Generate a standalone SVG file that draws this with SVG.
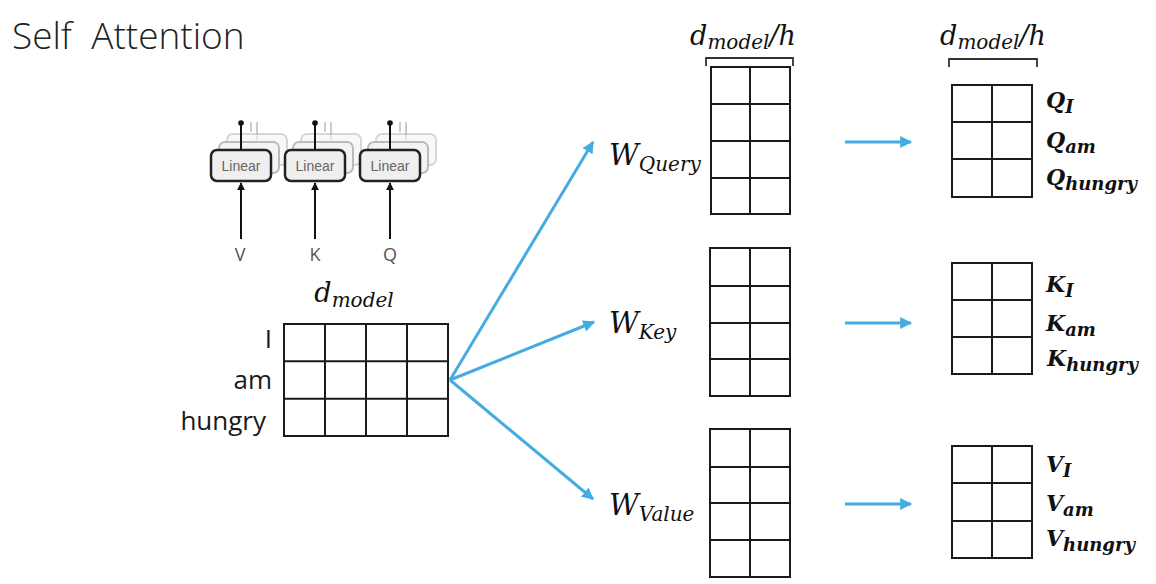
<svg xmlns="http://www.w3.org/2000/svg" width="1156" height="584" viewBox="0 0 1156 584">
<style>
.grid{fill:none;stroke:#1a1a1a;stroke-width:2}
.lbl{font-family:"Open Sans","Liberation Sans",sans-serif;font-size:26px;fill:#1a1a1a}
.math{font-family:"DejaVu Serif",serif;font-style:italic;fill:#111}
.bm{font-family:"DejaVu Serif",serif;font-style:italic;font-weight:bold;fill:#111;font-size:22px}
.sub{font-size:18px}
.blue{stroke:#45ABE0;stroke-width:3;fill:none}
.brk{fill:none;stroke:#333;stroke-width:1.8}
.lin{fill:#efefef;stroke:#222;stroke-width:2.5}
.linb{fill:#f4f4f4;stroke:#bbb;stroke-width:2}
.lintx{font-family:"Liberation Sans",sans-serif;font-size:14px;fill:#666}
.blk{stroke:#111;stroke-width:2;fill:none}
.vkq{font-family:"Open Sans","Liberation Sans",sans-serif;font-size:18px;fill:#555}
</style>
<defs>
<marker id="ah" viewBox="0 0 10 10" refX="9" refY="5" markerWidth="4" markerHeight="4" orient="auto"><path d="M0,0 L10,5 L0,10 Z" fill="#45ABE0"/></marker>
<marker id="bh" viewBox="0 0 10 10" refX="9" refY="5" markerWidth="4" markerHeight="4" orient="auto"><path d="M0,0 L10,5 L0,10 Z" fill="#111"/></marker>
<g id="linblock">
<line x1="40" y1="-28" x2="40" y2="-18" stroke="#ccc" stroke-width="2"/>
<line x1="46" y1="-28" x2="46" y2="-10" stroke="#ccc" stroke-width="2"/>
<rect x="16" y="-16" width="60" height="31" rx="6" class="linb" opacity="0.6"/>
<rect x="8" y="-8" width="60" height="31" rx="6" class="linb"/>
<rect x="0" y="0" width="60" height="31" rx="6" class="lin"/>
<text x="30" y="21" text-anchor="middle" class="lintx">Linear</text>
<line x1="30" y1="89" x2="30" y2="33" class="blk" marker-end="url(#bh)"/>
<line x1="30" y1="0" x2="30" y2="-26" class="blk"/>
<circle cx="30" cy="-27" r="2.8" fill="#111"/>
</g>
</defs>
<rect width="1156" height="584" fill="#fff"/>
<text x="12" y="49" font-family="'Open Sans','Liberation Sans',sans-serif" font-size="37" font-weight="300" fill="#222">Self&#160; Attention</text>

<g id="linear-layers">
<use href="#linblock" x="211" y="150"/>
<use href="#linblock" x="285" y="150"/>
<use href="#linblock" x="360" y="150"/>
<text x="240" y="261" text-anchor="middle" class="vkq">V</text>
<text x="315" y="261" text-anchor="middle" class="vkq">K</text>
<text x="390" y="261" text-anchor="middle" class="vkq">Q</text>
</g>

<g id="input-matrix">
<text x="354" y="302" text-anchor="middle" class="math" font-size="27">d<tspan font-size="20" dy="5">model</tspan></text>
<rect x="284" y="324" width="164" height="112" class="grid"/>
<path d="M325,324V436M366,324V436M407,324V436M284,361.3H448M284,398.7H448" class="grid"/>
<text x="272" y="348" text-anchor="end" class="lbl">I</text>
<text x="272" y="389" text-anchor="end" class="lbl">am</text>
<text x="266" y="430" text-anchor="end" class="lbl">hungry</text>
</g>

<g id="w-query">
<path d="M706,66V58H793V66" class="brk"/>
<text x="743" y="45" text-anchor="middle" class="math" font-size="27">d<tspan font-size="20" dy="4">model</tspan><tspan dy="-4">/h</tspan></text>
<rect x="711" y="67" width="79" height="147" class="grid"/>
<path d="M750,67V214M711,104H790M711,141H790M711,178H790" class="grid"/>
<text x="609" y="165" class="math" font-size="29">W<tspan font-size="20" dy="6">Query</tspan></text>
</g>

<g id="w-key">
<rect x="710" y="248" width="80" height="148" class="grid"/>
<path d="M750,248V396M710,286H790M710,323H790M710,359H790" class="grid"/>
<text x="609" y="333" class="math" font-size="29">W<tspan font-size="20" dy="6">Key</tspan></text>
</g>

<g id="w-value">
<rect x="710" y="429" width="80" height="148" class="grid"/>
<path d="M750,429V577M710,467H790M710,503H790M710,540H790" class="grid"/>
<text x="609" y="515" class="math" font-size="29">W<tspan font-size="20" dy="6">Value</tspan></text>
</g>

<g id="q-out">
<path d="M949,67V59H1037V67" class="brk"/>
<text x="993" y="45" text-anchor="middle" class="math" font-size="27">d<tspan font-size="20" dy="4">model</tspan><tspan dy="-4">/h</tspan></text>
<rect x="952" y="85" width="80" height="112" class="grid"/>
<path d="M992,85V197M952,122H1032M952,159H1032" class="grid"/>
<text x="1046" y="108" class="bm">Q<tspan class="sub" dy="5">I</tspan></text>
<text x="1046" y="148" class="bm">Q<tspan class="sub" dy="5">am</tspan></text>
<text x="1046" y="185" class="bm">Q<tspan class="sub" dy="5">hungry</tspan></text>
</g>

<g id="k-out">
<rect x="952" y="263" width="80" height="111" class="grid"/>
<path d="M992,263V374M952,300H1032M952,337H1032" class="grid"/>
<text x="1046" y="292" class="bm">K<tspan class="sub" dy="5">I</tspan></text>
<text x="1046" y="331" class="bm">K<tspan class="sub" dy="5">am</tspan></text>
<text x="1047" y="366" class="bm">K<tspan class="sub" dy="5">hungry</tspan></text>
</g>

<g id="v-out">
<rect x="952" y="446" width="80" height="112" class="grid"/>
<path d="M992,446V558M952,483H1032M952,521H1032" class="grid"/>
<text x="1046" y="472" class="bm">V<tspan class="sub" dy="5">I</tspan></text>
<text x="1046" y="511" class="bm">V<tspan class="sub" dy="5">am</tspan></text>
<text x="1046" y="546" class="bm">V<tspan class="sub" dy="5">hungry</tspan></text>
</g>

<g id="connectors">
<line x1="450" y1="380" x2="593" y2="142" class="blue" marker-end="url(#ah)"/>
<line x1="450" y1="380" x2="594" y2="322" class="blue" marker-end="url(#ah)"/>
<line x1="450" y1="380" x2="593" y2="499" class="blue" marker-end="url(#ah)"/>
<line x1="845" y1="142" x2="911" y2="142" class="blue" marker-end="url(#ah)"/>
<line x1="845" y1="323" x2="911" y2="323" class="blue" marker-end="url(#ah)"/>
<line x1="845" y1="504" x2="911" y2="504" class="blue" marker-end="url(#ah)"/>
</g>
</svg>
